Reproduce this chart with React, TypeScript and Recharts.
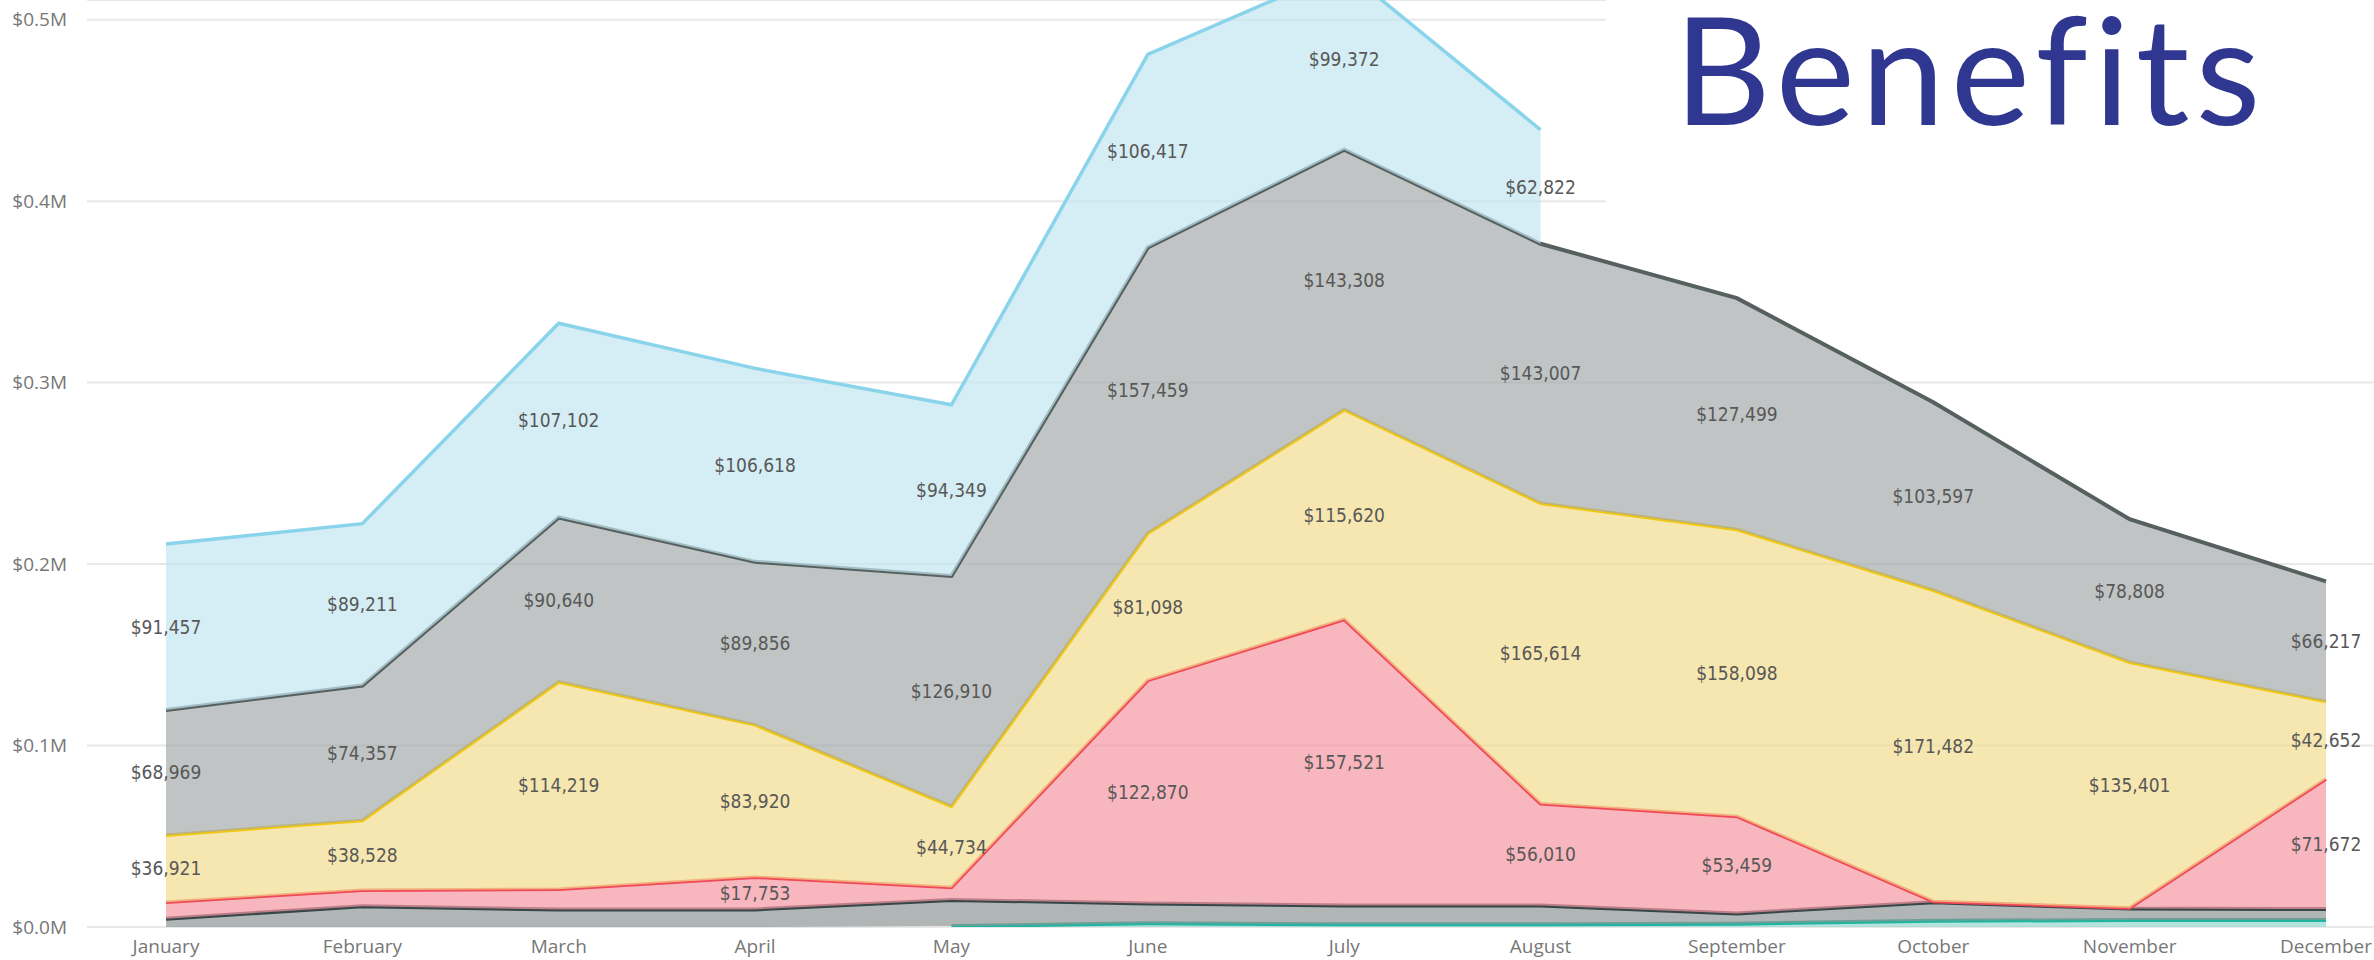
import { Area, CartesianGrid, ComposedChart, LabelList, Line, XAxis, YAxis } from "recharts";

const months = [
  "January", "February", "March", "April", "May", "June",
  "July", "August", "September", "October", "November", "December",
];

// stacked bottom -> top
const tealVals = [null, null, null, null, 500, 2000, 1500, 1500, 1800, 3500, 3800, 3800];
const darkGreyVals = [4600, 11400, 9600, 9700, 14400, 11000, 10400, 10400, 5700, 10100, 6400, 6100];
const redVals = [9100, 8800, 11200, 17753, 6900, 122870, 157521, 56010, 53459, 500, 300, 71672];
const yellowVals = [36921, 38528, 114219, 83920, 44734, 81098, 115620, 165614, 158098, 171482, 135401, 42652];
const greyVals = [68969, 74357, 90640, 89856, 126910, 157459, 143308, 143007, 127499, 103597, 78808, 66217];
const blueVals = [91457, 89211, 107102, 106618, 94349, 106417, 99372, 62822, null, null, null, null];

// which red values carry a data label
const redLabelShown = [false, false, false, true, false, true, true, true, true, false, false, true];

const yTicks = [0, 100000, 200000, 300000, 400000, 500000];

const stackOrder: (number | null)[][] = [tealVals, darkGreyVals, redVals, yellowVals, greyVals, blueVals];

// middle of a band, in data units, so labels sit centred in their area
const midOf = (level: number, i: number) => {
  const v = stackOrder[level][i];
  if (v == null) return null;
  let base = 0;
  for (let k = 0; k < level; k++) base += stackOrder[k][i] ?? 0;
  return base + v / 2;
};

const data = months.map((month, i) => ({
  month,
  teal: tealVals[i],
  darkGrey: darkGreyVals[i],
  red: redVals[i],
  yellow: yellowVals[i],
  grey: greyVals[i],
  blue: blueVals[i],
  redLabel: redLabelShown[i] ? redVals[i] : null,
  redMid: redLabelShown[i] ? midOf(2, i) : null,
  yellowMid: midOf(3, i),
  greyMid: midOf(4, i),
  blueMid: midOf(5, i),
}));

const labelFont = "'DejaVu Sans Condensed', 'Liberation Sans Narrow', 'Roboto Condensed', 'DejaVu Sans', sans-serif";

const bandLabel = (props: any) => {
  const { x, y, value } = props;
  if (x == null || y == null || value == null || Number.isNaN(y)) return null;
  return (
    <text x={x} y={y} dy="0.36em" textAnchor="middle" fill="#585858"
      fontSize={19} fontFamily={labelFont}>
      {`$${Number(value).toLocaleString("en-US")}`}
    </text>
  );
};

const fmtM = (v: number) => `$${(v / 1000000).toFixed(1)}M`;

const tickStyle = { fill: "#777777", fontSize: 19, fontFamily: "'Open Sans', sans-serif" };

export default function App() {
  return (
    <div style={{ position: "relative", width: 2374, height: 960, overflow: "hidden", background: "#fff" }}>
      <style>{"body{margin:0}"}</style>
      <ComposedChart width={2374} height={960} data={data}
        margin={{ top: 0, right: 0, bottom: 0, left: 0 }}>
        <CartesianGrid vertical={false} stroke="#e8e8e8" strokeWidth={2} />
        <XAxis dataKey="month" scale="point" padding={{ left: 79, right: 48 }}
          axisLine={false} tickLine={false} tickSize={0} tickMargin={13} height={33}
          interval={0} tick={tickStyle} />
        <YAxis width={87} domain={[0, 510860]} allowDataOverflow ticks={yTicks}
          tickFormatter={fmtM} axisLine={false} tickLine={false} tickSize={0} tickMargin={20}
          tick={tickStyle} />

        <Area type="linear" dataKey="teal" stackId="s" stroke="#1fb5a0" strokeWidth={4}
          fill="#95d7ce" fillOpacity={0.7} isAnimationActive={false} />
        <Area type="linear" dataKey="darkGrey" stackId="s" stroke="#374649" strokeWidth={4}
          fill="#8e9595" fillOpacity={0.7} isAnimationActive={false} />
        <Area type="linear" dataKey="red" stackId="s" stroke="#f04a58" strokeWidth={3.5}
          fill="#f597a2" fillOpacity={0.7} isAnimationActive={false} />
        <Area type="linear" dataKey="yellow" stackId="s" stroke="#f2c80f" strokeWidth={3.5}
          fill="#f2db8e" fillOpacity={0.7} isAnimationActive={false} />
        <Area type="linear" dataKey="grey" stackId="s" stroke="#56605f" strokeWidth={4}
          fill="#a5abab" fillOpacity={0.7} isAnimationActive={false} />
        <Area type="linear" dataKey="blue" stackId="s" stroke="#8ad4eb" strokeWidth={3.5}
          fill="#c3e5ef" fillOpacity={0.7} isAnimationActive={false} />

        <Line dataKey="redMid" stroke="none" dot={false} activeDot={false} isAnimationActive={false}>
          <LabelList dataKey="redLabel" content={bandLabel} />
        </Line>
        <Line dataKey="yellowMid" stroke="none" dot={false} activeDot={false} isAnimationActive={false}>
          <LabelList dataKey="yellow" content={bandLabel} />
        </Line>
        <Line dataKey="greyMid" stroke="none" dot={false} activeDot={false} isAnimationActive={false}>
          <LabelList dataKey="grey" content={bandLabel} />
        </Line>
        <Line dataKey="blueMid" stroke="none" dot={false} activeDot={false} isAnimationActive={false}>
          <LabelList dataKey="blue" content={bandLabel} />
        </Line>
      </ComposedChart>

      <div style={{
        position: "absolute", left: 1606, top: 0, width: 768, height: 212, background: "#fff",
      }}>
        <div style={{
          position: "absolute", left: 68, top: 0, fontSize: 150, lineHeight: 0.9,
          fontFamily: "Lato, sans-serif", fontWeight: 400, letterSpacing: 6,
          fontVariantLigatures: "none", color: "#2f3791", whiteSpace: "nowrap",
        }}>
          Benefits
        </div>
      </div>
    </div>
  );
}
